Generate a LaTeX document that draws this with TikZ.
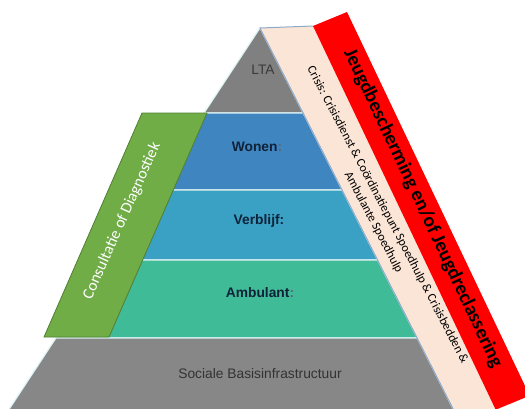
\documentclass[tikz,border=0pt]{standalone}
\usepackage{fontspec}
\setmainfont{Liberation Sans}
\newfontfamily\calib{Carlito}
\definecolor{ltagray}{HTML}{808080}
\definecolor{basegray}{HTML}{878787}
\definecolor{wonen}{HTML}{3F86C1}
\definecolor{verblijf}{HTML}{3AA0C4}
\definecolor{ambulant}{HTML}{40BB98}
\definecolor{sepline}{HTML}{DDF2F2}
\definecolor{greenband}{HTML}{70AD47}
\definecolor{greenedge}{HTML}{507E32}
\definecolor{peach}{HTML}{FBE5D6}
\definecolor{peachedge}{HTML}{8EAACB}
\definecolor{redband}{HTML}{FF0000}
\definecolor{navytext}{HTML}{0F2238}
\definecolor{coltext}{HTML}{5A6878}
\definecolor{graytext}{HTML}{3A3A3A}
\begin{document}
\begin{tikzpicture}[x=1pt,y=-1pt,
  layer/.style={draw=sepline,line width=1.1pt},
  lvltext/.style={font=\fontsize{13.8}{16}\selectfont\bfseries,text=navytext,inner sep=0pt},
  graylabel/.style={font=\fontsize{13.8}{16}\selectfont,text=graytext,inner sep=0pt}]
\useasboundingbox (0,0) rectangle (525,408);
\clip (0,0) rectangle (525,408);
\fill[white] (0,0) rectangle (525,408);
% pyramid layers
\filldraw[layer,fill=ltagray] (260,28) -- (303.1,113) -- (204.1,113) -- cycle;
\filldraw[layer,fill=wonen] (204.1,113) -- (303.1,113) -- (342.1,190) -- (153.4,190) -- cycle;
\filldraw[layer,fill=verblijf] (153.4,190) -- (342.1,190) -- (377.6,260) -- (107.3,260) -- cycle;
\filldraw[layer,fill=ambulant] (107.3,260) -- (377.6,260) -- (417.2,338) -- (56.0,338) -- cycle;
\filldraw[layer,fill=basegray] (56.0,338) -- (417.2,338) -- (458.7,420) -- (2.1,420) -- cycle;
% green band
\filldraw[fill=greenband,draw=greenedge,line width=0.8pt] (142,113) -- (207,113) -- (109,337) -- (44,337) -- cycle;
% peach band
\fill[peach] (260,28) -- (313,26) -- (500.5,420) -- (458.7,420) -- cycle;
\draw[peachedge,line width=1pt] (458.7,420) -- (260,28) -- (313,26);
% red band
\fill[redband] (313,26) -- (347,12) -- (529.7,395.7) -- (495.7,409.7) -- cycle;
% texts
\node[graylabel] (lta) at (263,70) {LTA};
\node[lvltext] (won) at (257,147) {Wonen\textcolor{coltext}{:}};
\node[lvltext] (ver) at (259,221) {Verblijf:};
\node[lvltext] (amb) at (260,293) {Ambulant\textcolor{coltext}{:}};
\node[graylabel,text=black!80] (soc) at (260,374) {Sociale Basisinfrastructuur};
\node[font=\calib\fontsize{16}{18}\selectfont,text=white,rotate=66,inner sep=0pt] (cons) at (122,221) {Consultatie of Diagnostiek};
\node[font=\calib\fontsize{12.4}{16}\selectfont,text=black,rotate=-62.3,align=center,inner sep=0pt] (crisis) at (380.5,218.7) {Crisis: Crisisdienst \& Coördinatiepunt Spoedhulp \& Crisisbedden \&\\Ambulante Spoedhulp};
\node[font=\calib\fontsize{19.7}{22}\selectfont\bfseries,text=black,rotate=-64.8,inner sep=0pt] (jeugd) at (423,208.5) {Jeugdbescherming en/of Jeugdreclassering};
\end{tikzpicture}
\end{document}
